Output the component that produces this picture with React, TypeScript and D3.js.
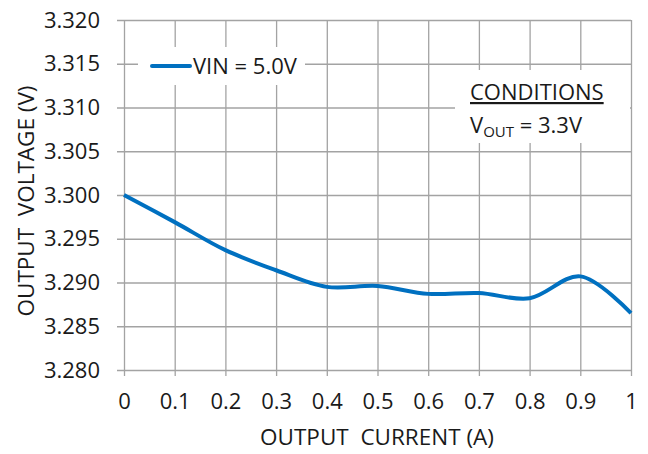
import React, { useEffect, useRef } from 'react'
import * as d3 from 'd3'

const currents = [0, 0.1, 0.2, 0.3, 0.4, 0.5, 0.6, 0.7, 0.8, 0.9, 1.0]
const voltages = [
	3.3, 3.2969, 3.2937, 3.2914, 3.2895, 3.2896, 3.2887, 3.2888, 3.2882, 3.2907,
	3.2865
]
const xTicks = [0, 0.1, 0.2, 0.3, 0.4, 0.5, 0.6, 0.7, 0.8, 0.9, 1]
const yTicks = [3.28, 3.285, 3.29, 3.295, 3.3, 3.305, 3.31, 3.315, 3.32]
const seriesName = 'VIN = 5.0V'

const App = () => {
	const ref = useRef<SVGSVGElement>(null)

	const width = 648
	const height = 454
	const left = 124
	const right = 631
	const top = 20
	const bottom = 370
	const font = "'Open Sans', 'Noto Sans', sans-serif"
	const gridColor = '#a3a3a3'
	const textColor = '#1a1a1a'

	useEffect(() => {
		if (!ref.current) return
		const svg = d3.select(ref.current)
		svg.selectAll('*').remove()

		const x = d3.scaleLinear().domain([0, 1]).range([left, right])
		const y = d3.scaleLinear().domain([3.28, 3.32]).range([bottom, top])

		// horizontal grid + y labels
		const yAxis = svg
			.append('g')
			.attr('transform', `translate(${right},0)`)
			.call(
				d3
					.axisLeft(y)
					.tickValues(yTicks)
					.tickSize(right - 117)
					.tickPadding(17)
					.tickFormat(d3.format('.3f'))
			)
		yAxis.select('.domain').remove()
		yAxis.selectAll('line').attr('stroke', gridColor).attr('stroke-width', 1.3)
		yAxis
			.selectAll('text')
			.attr('font-family', font)
			.attr('font-size', 22)
			.attr('fill', textColor)

		// vertical grid + x labels
		const xAxis = svg
			.append('g')
			.attr('transform', `translate(0,${top})`)
			.call(
				d3
					.axisBottom(x)
					.tickValues(xTicks)
					.tickSize(376 - top)
					.tickPadding(17)
					.tickFormat(d => String(d))
			)
		xAxis.select('.domain').remove()
		xAxis.selectAll('line').attr('stroke', gridColor).attr('stroke-width', 1.3)
		xAxis
			.selectAll('text')
			.attr('font-family', font)
			.attr('font-size', 22)
			.attr('fill', textColor)

		// legend box
		svg
			.append('rect')
			.attr('x', 138)
			.attr('y', 47)
			.attr('width', 167)
			.attr('height', 38)
			.attr('fill', '#fff')
		svg
			.append('line')
			.attr('x1', 152)
			.attr('x2', 190)
			.attr('y1', 66)
			.attr('y2', 66)
			.attr('stroke', '#0070c0')
			.attr('stroke-width', 4)
			.attr('stroke-linecap', 'round')
		svg
			.append('text')
			.attr('x', 193)
			.attr('y', 74)
			.attr('font-family', font)
			.attr('font-size', 22)
			.attr('fill', textColor)
			.text(seriesName)

		// conditions box
		svg
			.append('rect')
			.attr('x', 455)
			.attr('y', 70)
			.attr('width', 175)
			.attr('height', 73)
			.attr('fill', '#fff')
		svg
			.append('text')
			.attr('x', 470)
			.attr('y', 100)
			.attr('font-family', font)
			.attr('font-size', 22)
			.attr('fill', textColor)
			.attr('text-decoration', 'underline')
			.text('CONDITIONS')
		const vout = svg
			.append('text')
			.attr('x', 470)
			.attr('y', 133)
			.attr('font-family', font)
			.attr('font-size', 22)
			.attr('fill', textColor)
		vout.append('tspan').text('V')
		vout.append('tspan').attr('font-size', 15).attr('dy', 4).text('OUT')
		vout.append('tspan').attr('dy', -4).text(' = 3.3V')

		// data line
		const line = d3
			.line<number>()
			.x((d, i) => x(currents[i]))
			.y(d => y(d))
			.curve(d3.curveCatmullRom.alpha(0.5))
		svg
			.append('path')
			.datum(voltages)
			.attr('fill', 'none')
			.attr('stroke', '#0070c0')
			.attr('stroke-width', 4)
			.attr('stroke-linejoin', 'round')
			.attr('d', line)

		// axis titles
		svg
			.append('text')
			.attr('transform', `translate(34,201) rotate(-90)`)
			.attr('text-anchor', 'middle')
			.attr('font-family', font)
			.attr('font-size', 22.5)
			.attr('fill', textColor)
			.style('white-space', 'pre')
			.text('OUTPUT  VOLTAGE (V)')
		svg
			.append('text')
			.attr('x', 377)
			.attr('y', 445)
			.attr('text-anchor', 'middle')
			.attr('font-family', font)
			.attr('font-size', 22.5)
			.attr('fill', textColor)
			.style('white-space', 'pre')
			.text('OUTPUT  CURRENT (A)')
	}, [])

	return (
		<svg
			ref={ref}
			width={width}
			height={height}
			style={{ position: 'absolute', left: 0, top: 0, background: '#fff' }}
		/>
	)
}

export default App
